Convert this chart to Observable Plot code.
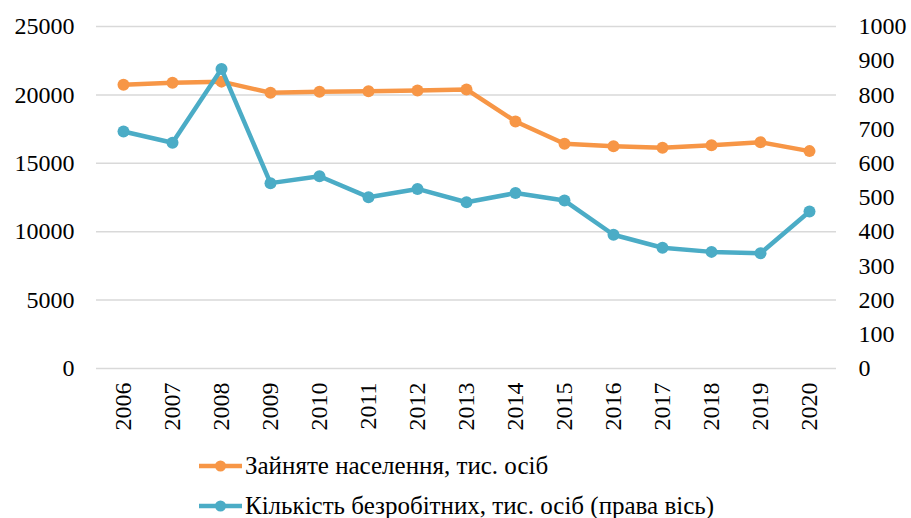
<!DOCTYPE html>
<html>
<head>
<meta charset="utf-8">
<script src="https://cdn.jsdelivr.net/npm/d3@7"></script>
<script src="https://cdn.jsdelivr.net/npm/@observablehq/plot@0.6"></script>
<style>
  html, body { margin: 0; padding: 0; background: #fff; }
  body { width: 911px; height: 518px; overflow: hidden; font-family: 'Liberation Serif', serif; }
  #legend { position: relative; margin-left: 198px; margin-top: 6px; font-family: 'Liberation Serif', serif; font-size: 25px; color: #000; }
  .row { display: flex; align-items: center; height: 40px; }
  .row span { font-family: 'Liberation Serif', serif; }
  .row svg { margin-right: 2px; }
</style>
</head>
<body>
<div id="chart"></div>
<div id="legend"></div>
<script>
const years = ["2006","2007","2008","2009","2010","2011","2012","2013","2014","2015","2016","2017","2018","2019","2020"];
const employed = [20740, 20890, 20970, 20160, 20230, 20270, 20320, 20400, 18060, 16430, 16250, 16130, 16320, 16540, 15890];
const unemployed = [693, 660, 876, 542, 562, 501, 525, 486, 513, 491, 391, 353, 341, 337, 459];
const leftTicks = [0, 5000, 10000, 15000, 20000, 25000];
const rightTicks = [0, 100, 200, 300, 400, 500, 600, 700, 800, 900, 1000];
const seriesNames = ["Зайняте населення, тис. осіб", "Кількість безробітних, тис. осіб (права вісь)"];
const colors = ["#F79646", "#4BACC6"];

const ratio = 25000 / 1000;
const empData = years.map((y, i) => ({year: y, value: employed[i]}));
const unData = years.map((y, i) => ({year: y, value: unemployed[i] * ratio}));

const chart = Plot.plot({
  width: 911,
  height: 440,
  marginLeft: 96,
  marginRight: 75,
  marginTop: 26,
  marginBottom: 72,
  style: {fontFamily: "'Liberation Serif', serif", fontSize: "24px", color: "#000", background: "#fff"},
  x: {type: "point", domain: years, padding: 0.5},
  y: {domain: [0, 25000]},
  marks: [
    Plot.gridY(leftTicks, {stroke: "#d9d9d9", strokeOpacity: 1, strokeWidth: 1.5}),
    Plot.axisY(leftTicks, {anchor: "left", tickSize: 0, tickPadding: 22, fontSize: 24, label: null, tickFormat: d => String(d)}),
    Plot.axisY(rightTicks.map(d => d * ratio), {anchor: "right", tickSize: 0, tickPadding: 22, fontSize: 24, label: null, textAnchor: "start", tickFormat: d => String(Math.round(d / ratio))}),
    Plot.axisX({tickRotate: -90, tickSize: 0, tickPadding: 14, fontSize: 24, label: null}),
    Plot.line(empData, {x: "year", y: "value", stroke: colors[0], strokeWidth: 4.5}),
    Plot.dot(empData, {x: "year", y: "value", fill: colors[0], r: 6}),
    Plot.line(unData, {x: "year", y: "value", stroke: colors[1], strokeWidth: 4.5}),
    Plot.dot(unData, {x: "year", y: "value", fill: colors[1], r: 6})
  ]
});
document.getElementById("chart").appendChild(chart);

const legend = document.getElementById("legend");
seriesNames.forEach((name, i) => {
  const row = document.createElement("div");
  row.className = "row";
  row.innerHTML = `<svg width="45" height="14"><line x1="1" y1="7" x2="44" y2="7" stroke="${colors[i]}" stroke-width="4.5"/><circle cx="22.5" cy="7" r="5.5" fill="${colors[i]}"/></svg><span>${name}</span>`;
  legend.appendChild(row);
});
</script>
</body>
</html>
